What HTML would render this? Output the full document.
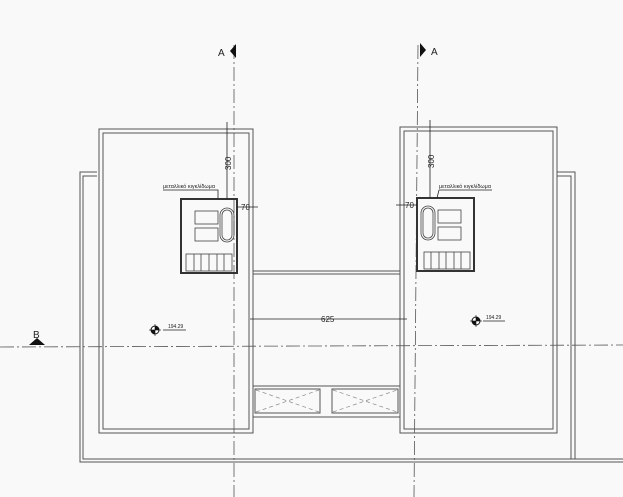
<!DOCTYPE html>
<html><head><meta charset="utf-8"><style>
html,body{margin:0;padding:0;background:#f8f9f8;}
svg{display:block;}
text{font-family:"Liberation Sans",sans-serif;fill:#222;}
</style></head><body>
<svg width="623" height="497" viewBox="0 0 623 497" xmlns="http://www.w3.org/2000/svg">
<rect width="623" height="497" fill="#f8f9f8"/>
<g fill="none" stroke="#555" stroke-width="1">
<polyline points="97,172 80,172 80,462 623,462"/>
<polyline points="97,176 83,176 83,459 623,459"/>
<polyline points="557,172 575,172 575,459"/>
<polyline points="557,176 571,176 571,459"/>
<rect x="99" y="129" width="154" height="304"/>
<rect x="103" y="133" width="146" height="296"/>
<rect x="400" y="127" width="157" height="306"/>
<rect x="404" y="131" width="149" height="298"/>
<line x1="253" y1="271" x2="400" y2="271"/>
<line x1="253" y1="274" x2="400" y2="274"/>
<line x1="253" y1="386" x2="400" y2="386"/>
<line x1="253" y1="417" x2="400" y2="417"/>
<rect x="255" y="389" width="65" height="24"/>
<rect x="332" y="389" width="66" height="24"/>
</g>
<g stroke="#888" stroke-width="0.7" stroke-dasharray="4,3" fill="none">
<line x1="256" y1="390" x2="319" y2="412"/><line x1="256" y1="412" x2="319" y2="390"/>
<line x1="333" y1="390" x2="397" y2="412"/><line x1="333" y1="412" x2="397" y2="390"/>
</g>
<g stroke="#555" stroke-width="0.8" stroke-dasharray="14,3,2,3">
<line x1="234" y1="45" x2="234" y2="497"/>
<line x1="418" y1="45" x2="414" y2="497"/>
<line x1="0" y1="347" x2="623" y2="345"/>
</g>
<polygon points="236,44 230,51 236,58" fill="#111"/>
<text x="218" y="56" font-size="10">A</text>
<polygon points="420,43 426,50 420,57" fill="#111"/>
<text x="431" y="55" font-size="10">A</text>
<polygon points="29,345 37,338 45,345" fill="#111"/>
<text x="33" y="338" font-size="10">B</text>
<g fill="none" stroke="#333">
<rect x="181" y="199" width="56" height="74" stroke-width="2"/>
<rect x="417" y="198" width="57" height="73" stroke-width="2"/>
</g>
<g fill="none" stroke="#444" stroke-width="0.8">
<rect x="195" y="211" width="23" height="13"/><rect x="195" y="228" width="23" height="13"/>
<rect x="220" y="208" width="14" height="34" rx="7"/><rect x="222" y="210" width="10" height="30" rx="5"/>
<rect x="186" y="254" width="46" height="17"/>
<line x1="194" y1="254" x2="194" y2="271"/><line x1="201" y1="254" x2="201" y2="271"/><line x1="209" y1="254" x2="209" y2="271"/><line x1="217" y1="254" x2="217" y2="271"/><line x1="224" y1="254" x2="224" y2="271"/>
<rect x="438" y="210" width="23" height="13"/><rect x="438" y="227" width="23" height="13"/>
<rect x="421" y="206" width="14" height="34" rx="7"/><rect x="423" y="208" width="10" height="30" rx="5"/>
<rect x="424" y="252" width="46" height="17"/>
<line x1="431" y1="252" x2="431" y2="269"/><line x1="439" y1="252" x2="439" y2="269"/><line x1="446" y1="252" x2="446" y2="269"/><line x1="454" y1="252" x2="454" y2="269"/><line x1="461" y1="252" x2="461" y2="269"/>
</g>
<g stroke="#222" stroke-width="0.8" fill="none">
<line x1="227" y1="122" x2="227" y2="199"/>
<line x1="430" y1="120" x2="430" y2="198"/>
<line x1="237" y1="207" x2="258" y2="207"/>
<line x1="396" y1="205" x2="417" y2="205"/>
<line x1="250" y1="319" x2="407" y2="319"/>
<polyline points="163,190 218,190 218,199"/>
<polyline points="439,190 492,190"/><line x1="439" y1="190" x2="437" y2="198"/>
<line x1="163" y1="330" x2="186" y2="330"/>
<line x1="483" y1="321" x2="505" y2="321"/>
</g>
<text x="0" y="0" font-size="8" transform="translate(231,170) rotate(-90)">300</text>
<text x="0" y="0" font-size="8" transform="translate(434,168) rotate(-90)">300</text>
<text x="241" y="210" font-size="8">70</text>
<text x="405" y="208" font-size="8">70</text>
<text x="321" y="322" font-size="8">625</text>
<text x="163" y="188" font-size="5.5">μεταλλικό κιγκλίδωμα</text>
<text x="439" y="188" font-size="5.5">μεταλλικό κιγκλίδωμα</text>
<text x="168" y="328" font-size="5">194.29</text>
<text x="486" y="319" font-size="5">194.29</text>
<g>
<circle cx="155" cy="330" r="4" fill="#fff" stroke="#111"/>
<path d="M155,330 L155,326 A4,4 0 0 1 159,330 Z M155,330 L155,334 A4,4 0 0 1 151,330 Z" fill="#111"/>
<line x1="149" y1="330" x2="161" y2="330" stroke="#111" stroke-width="0.6"/>
<line x1="155" y1="324" x2="155" y2="336" stroke="#111" stroke-width="0.6"/>
<circle cx="476" cy="321" r="4" fill="#fff" stroke="#111"/>
<path d="M476,321 L476,317 A4,4 0 0 1 480,321 Z M476,321 L476,325 A4,4 0 0 1 472,321 Z" fill="#111"/>
<line x1="470" y1="321" x2="482" y2="321" stroke="#111" stroke-width="0.6"/>
<line x1="476" y1="315" x2="476" y2="327" stroke="#111" stroke-width="0.6"/>
</g>
</svg>
</body></html>
